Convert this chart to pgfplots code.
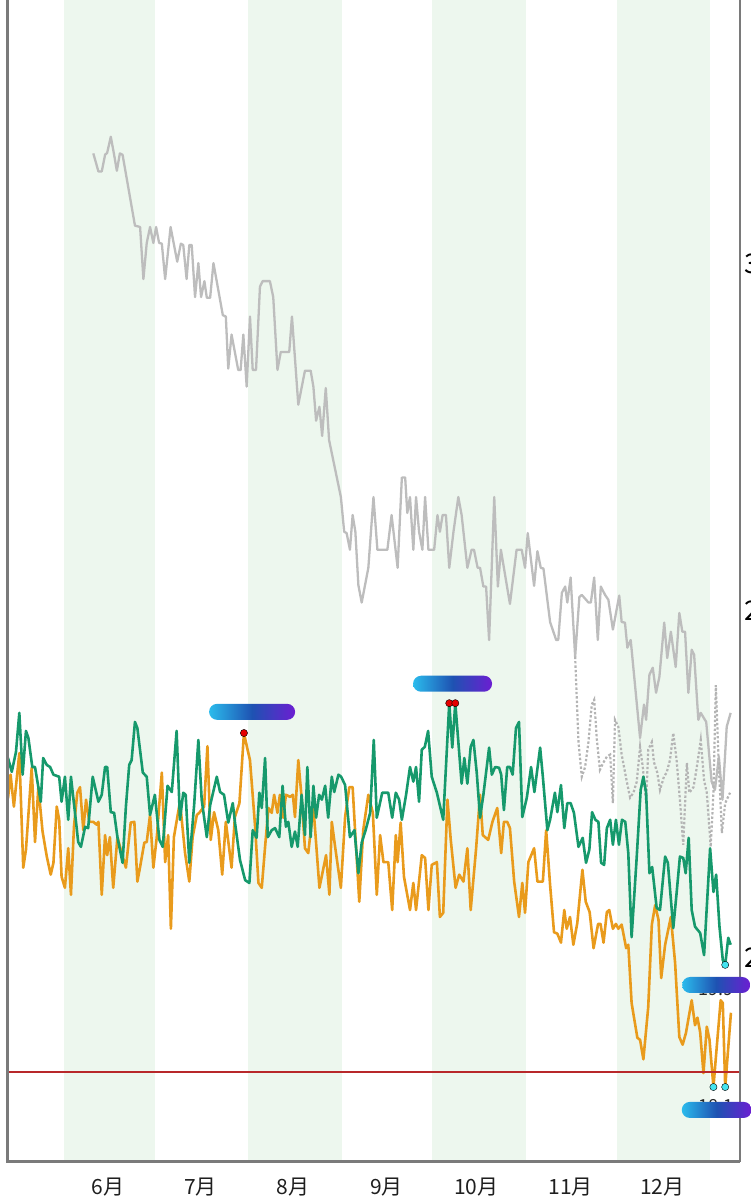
\documentclass[border=0pt]{standalone}
\usepackage{pgfplots}
\pgfplotsset{compat=1.18}
\usepackage{fontspec}
\setmainfont{Noto Sans CJK SC}
\definecolor{bandg}{HTML}{EDF7EE}
\definecolor{grn}{HTML}{16996C}
\definecolor{org}{HTML}{E99B1C}
\definecolor{gry}{HTML}{BDBDBD}
\definecolor{gryd}{HTML}{B4B4B4}
\definecolor{redl}{HTML}{B8282A}
\definecolor{pillc}{HTML}{2BBBEC}
\definecolor{pillb}{HTML}{1E52B2}
\definecolor{pillp}{HTML}{6C1ED2}
\definecolor{cyd}{HTML}{45E3F0}
\definecolor{frm}{HTML}{7A7A7A}
\tikzset{pill/.style={rounded corners=8pt, minimum height=16pt, inner sep=0pt,
  left color=pillc, right color=pillp, middle color=pillb}}
\begin{document}
\begin{tikzpicture}
\path[use as bounding box] (0,0) rectangle (751pt,1200pt);
\begin{axis}[at={(8pt,38pt)}, anchor=south west, scale only axis,
  width=732pt, height=1162pt,
  xmin=-18.55, xmax=223.9, ymin=17.06, ymax=33.80,
  clip=false, axis line style={draw=none},
  major tick length=0pt,
  xtick={14.6,45.2,75.8,106.8,136.6,167.8,198.2},
  xticklabels={6月,7月,8月,9月,10月,11月,12月},
  xticklabel style={font=\fontsize{21}{24}\selectfont, text=black!88, anchor=north, yshift=-12pt},
  ytick={20,25,30}, yticklabels={20,25,30}, yticklabel pos=right,
  yticklabel style={font=\fontsize{27}{30}\selectfont, text=black, anchor=west, xshift=1pt},
]
% month bands
\fill[bandg] (axis cs:0,17.06) rectangle (axis cs:30,33.8);
\fill[bandg] (axis cs:61,17.06) rectangle (axis cs:92,33.8);
\fill[bandg] (axis cs:122,17.06) rectangle (axis cs:153,33.8);
\fill[bandg] (axis cs:183,17.06) rectangle (axis cs:214,33.8);
% gray solid
\addplot[gry, line width=2.3pt, line join=round] coordinates {
(9.7,31.59)(11.4,31.33)(12.5,31.33)(13.6,31.57)(14.3,31.60)(15.5,31.83)(16.6,31.57)(17.5,31.34)(18.5,31.59)(19.4,31.57)
(23.5,30.55)(25.2,30.53)(26.3,29.78)(27.4,30.30)(28.5,30.53)(29.6,30.30)(30.5,30.53)(31.5,30.30)(32.4,30.29)(33.5,29.78)
(35.3,30.53)(37.5,30.03)(38.7,30.29)(39.5,30.27)(40.6,29.78)(41.5,30.27)(42.3,30.27)(43.4,29.52)(44.5,30.01)(45.4,29.52)
(46.5,29.75)(47.3,29.51)(48.4,29.51)(49.5,30.01)(52.6,29.26)(53.6,29.24)(54.4,28.49)(55.5,28.98)(57.7,28.47)(58.5,28.47)
(59.4,28.98)(60.5,28.23)(61.6,29.24)(62.5,28.47)(63.6,28.47)(64.9,29.67)(65.8,29.75)(68.2,29.75)(69.3,29.52)(70.7,28.47)
(71.8,28.73)(74.6,28.73)(75.5,29.24)(77.6,27.97)(79.8,28.46)(81.7,28.46)(82.6,28.23)(83.5,27.74)(84.6,27.94)(85.5,27.52)
(86.7,28.21)(87.8,27.46)(91.7,26.64)(92.8,26.14)(93.6,26.12)(94.7,25.88)(95.6,26.38)(96.5,26.14)(97.5,25.37)(98.6,25.12)
(100.8,25.62)(102.5,26.64)(103.8,25.88)(107.1,25.88)(108.5,26.38)(110.5,25.62)(111.9,26.92)(113.0,26.92)(113.7,26.41)(114.6,26.64)
(115.7,25.88)(116.6,26.64)(117.6,26.14)(118.7,25.88)(119.6,26.64)(120.7,25.88)(122.6,25.88)(123.7,26.38)(124.5,26.14)(125.4,26.38)
(126.5,26.38)(127.6,25.62)(129.0,26.14)(130.6,26.64)(131.7,26.38)(133.6,25.62)(135.0,25.88)(135.8,25.88)(137.0,25.62)(137.8,25.62)
(138.9,25.35)(139.8,25.35)(140.8,24.58)(142.5,26.64)(143.7,25.35)(144.7,25.88)(147.7,25.10)(149.9,25.88)(151.6,25.88)(152.7,25.62)
(153.6,26.12)(155.7,25.36)(156.8,25.86)(157.9,25.62)(158.8,25.61)(161.0,24.84)(163.0,24.58)(163.7,24.58)(164.9,25.26)(166.0,25.35)
(166.7,25.12)(167.8,25.48)(169.3,24.34)(170.7,25.20)(171.5,25.23)(173.7,25.12)(174.5,25.12)(175.6,25.48)(176.8,24.58)(177.8,25.35)
(179.2,25.23)(180.3,25.16)(181.8,24.73)(183.9,25.22)(184.7,24.84)(185.8,24.83)(186.6,24.47)(187.7,24.58)(190.8,23.17)(192.1,23.65)
(192.8,23.43)(193.9,24.08)(195.0,24.18)(196.1,23.82)(197.2,24.05)(198.8,24.83)(199.8,24.32)(201.0,24.70)(202.6,24.19)(203.8,24.97)
(204.8,24.70)(205.7,24.70)(206.8,23.82)(207.9,24.44)(208.7,24.37)(210.1,23.43)(210.9,23.53)(212.7,23.40)(214.5,22.54)(215.6,22.42)
(216.9,22.90)(218.1,22.28)(219.5,23.33)(220.8,23.53)};
% gray dotted
\addplot[gryd, line width=2.2pt, dash pattern=on 2.4pt off 2pt] coordinates {
(169.3,24.34)(170.4,23.11)(171.5,22.61)(172.6,22.75)(173.7,23.11)(174.8,23.65)(175.6,23.72)(176.5,23.14)(177.5,22.71)(178.6,22.81)
(179.8,22.90)(180.9,22.93)(181.8,22.23)(182.5,23.43)(183.6,23.33)(184.7,22.93)(186.4,22.54)(187.5,22.31)(188.6,22.38)(189.7,22.54)
(190.8,23.04)(191.7,22.75)(192.8,22.23)(193.5,23.00)(194.7,23.11)(195.4,22.82)(196.5,22.67)(197.4,22.42)(198.7,22.61)(199.6,22.67)
(200.7,22.85)(201.8,23.24)(202.9,22.85)(204.0,22.28)(205.1,21.63)(206.3,22.81)(207.1,22.38)(208.5,22.46)(209.6,22.75)(210.9,23.14)
(212.0,22.56)(212.9,22.38)(214.2,21.60)(215.1,22.38)(215.9,23.93)(216.8,22.85)(217.9,21.80)(219.0,22.23)(220.6,22.38)};
% orange
\addplot[org, line width=2.6pt, line join=round] coordinates {
(-18.55,22.30)(-17.7,22.64)(-16.6,22.18)(-14.8,22.95)(-13.5,21.30)(-12.6,21.56)(-10.7,22.74)(-9.6,21.67)(-8.5,22.46)(-7.1,21.82)
(-5.7,21.46)(-4.4,21.20)(-3.5,21.37)(-2.4,22.18)(-1.6,21.99)(-0.8,21.17)(0.3,21.01)(1.4,21.58)(2.3,20.91)(3.3,21.89)
(4.4,22.38)(5.3,22.46)(6.4,21.84)(7.3,22.28)(8.4,21.96)(9.7,21.96)(10.8,21.92)(11.4,21.96)(12.5,20.91)(13.6,21.77)
(14.3,21.48)(15.2,21.74)(16.3,21.01)(17.7,21.74)(19.1,21.51)(20.5,21.30)(22.1,21.95)(23.3,21.96)(24.3,21.10)(25.2,21.31)
(26.6,21.66)(27.4,21.67)(28.5,22.06)(29.6,21.30)(30.7,21.73)(32.4,22.67)(33.5,21.38)(34.5,21.77)(35.4,20.42)(36.4,21.74)
(38.4,22.25)(40.1,21.51)(41.5,21.10)(42.6,21.74)(44.0,22.06)(44.8,22.09)(46.4,22.18)(47.5,23.05)(48.6,21.70)(49.7,22.10)
(51.1,21.84)(52.4,21.20)(53.6,21.96)(55.5,21.30)(56.6,22.03)(58.1,22.23)(59.6,23.24)(60.8,23.00)(61.6,22.85)(63.3,21.89)
(64.4,21.08)(65.5,21.01)(66.6,21.60)(67.7,22.16)(68.8,22.09)(69.6,22.35)(70.7,22.09)(71.5,22.35)(72.6,22.02)(73.5,22.35)
(74.9,22.32)(75.8,22.35)(76.5,22.03)(77.6,22.85)(78.7,22.31)(79.8,21.58)(80.9,21.51)(82.6,22.18)(84.6,21.01)(86.8,21.48)
(87.9,20.91)(88.7,21.96)(89.8,21.60)(91.7,21.01)(93.1,22.03)(94.5,22.46)(95.6,22.46)(96.4,21.84)(97.8,20.81)(99.1,21.84)
(100.8,22.35)(102.3,22.09)(103.6,20.91)(104.7,21.77)(105.8,21.38)(107.4,21.38)(108.7,20.69)(109.9,21.77)(110.5,21.38)(111.5,21.95)
(112.6,21.17)(114.6,20.69)(115.7,21.08)(116.6,20.69)(118.5,21.48)(119.6,21.44)(120.7,20.69)(121.8,21.34)(123.5,21.38)(124.5,20.59)
(125.6,20.65)(127.0,22.28)(128.1,21.70)(129.7,21.01)(130.9,21.20)(132.3,21.10)(133.6,21.58)(134.7,20.69)(136.5,21.58)(137.8,22.35)
(138.7,21.77)(140.5,21.70)(141.9,21.96)(143.5,22.16)(144.8,21.51)(145.7,21.96)(146.8,21.96)(147.7,21.87)(149.1,21.10)(150.7,20.59)
(151.8,21.08)(152.7,20.65)(153.8,21.38)(155.7,21.58)(156.8,21.10)(158.6,21.10)(159.7,21.84)(161.0,21.05)(162.3,20.37)(163.4,20.35)
(164.6,20.22)(165.7,20.69)(166.5,20.42)(167.6,20.59)(168.7,20.19)(170.0,20.50)(171.7,21.27)(172.8,20.81)(174.1,20.66)(175.4,20.14)
(176.9,20.49)(177.7,20.49)(178.7,20.22)(179.8,20.66)(180.6,20.69)(181.8,20.42)(182.8,20.49)(183.6,20.42)(184.7,20.48)(186.2,20.14)
(186.9,20.19)(188.0,19.35)(189.9,18.85)(190.8,18.82)(191.9,18.54)(193.5,19.29)(194.7,20.48)(195.8,20.76)(196.9,20.55)(197.8,19.71)
(199.1,20.19)(201.0,20.59)(202.4,19.93)(203.8,18.86)(204.9,18.75)(206.0,18.92)(207.9,19.39)(209.0,19.03)(209.8,19.14)(210.7,18.93)
(211.8,18.34)(212.9,19.01)(213.8,18.82)(215.1,18.14)(216.2,18.72)(217.5,19.39)(218.2,19.35)(219.0,18.14)(220.9,19.21)};
% green
\addplot[grn, line width=2.6pt, line join=round] coordinates {
(-18.55,22.88)(-17.3,22.68)(-15.9,22.97)(-14.8,23.53)(-13.7,22.64)(-12.6,23.27)(-11.8,23.17)(-10.5,22.75)(-9.6,22.75)(-7.7,22.25)
(-6.9,22.88)(-5.7,22.78)(-4.6,22.75)(-3.5,22.64)(-1.6,22.61)(-0.8,22.25)(0.3,22.61)(1.4,21.99)(2.3,22.61)(4.0,21.95)
(4.7,21.67)(5.6,21.60)(7.0,21.89)(8.0,21.87)(9.5,22.61)(11.4,22.25)(12.5,22.35)(13.6,22.75)(14.3,22.75)(15.5,22.10)
(16.6,22.09)(17.7,21.74)(19.4,21.37)(20.5,22.18)(21.6,22.78)(22.4,22.85)(23.5,23.40)(24.3,23.31)(26.1,22.67)(27.4,22.61)
(28.5,22.06)(30.1,22.35)(31.6,21.70)(32.7,21.60)(34.3,22.48)(35.7,22.39)(37.3,23.27)(38.4,21.99)(39.5,22.38)(40.3,22.35)
(41.5,21.37)(43.1,22.20)(44.5,23.14)(45.6,22.28)(47.3,21.74)(48.4,22.20)(50.6,22.61)(51.7,22.39)(53.0,22.35)(54.4,21.95)
(55.9,22.23)(56.6,21.96)(58.3,21.41)(60.0,21.12)(61.4,21.08)(62.5,21.84)(63.8,21.73)(64.7,22.38)(65.5,22.16)(66.6,22.88)
(67.5,21.74)(68.8,21.84)(69.9,21.87)(71.3,21.74)(72.4,22.48)(73.5,21.89)(74.3,21.96)(75.4,21.60)(76.5,21.82)(77.4,21.60)
(78.7,22.35)(79.8,21.77)(80.6,22.75)(81.7,21.74)(82.6,22.48)(83.5,22.02)(84.5,22.35)(85.4,22.28)(86.5,22.48)(87.5,22.02)
(88.7,22.61)(89.5,22.39)(90.9,22.64)(91.8,22.61)(93.1,22.49)(94.7,21.74)(96.2,21.84)(97.5,21.22)(98.6,21.66)(99.9,21.84)
(101.4,22.09)(102.6,23.14)(103.6,22.02)(105.4,22.38)(107.4,22.38)(108.7,22.02)(109.9,22.38)(111.0,22.28)(111.9,21.99)(113.3,22.35)
(114.6,22.75)(115.7,22.54)(116.6,22.75)(117.6,22.25)(118.5,23.00)(119.5,23.04)(120.6,23.27)(121.8,22.61)(123.5,22.38)(125.6,21.99)
(127.6,23.67)(128.6,23.03)(129.6,23.67)(131.7,22.51)(132.6,22.88)(133.6,22.51)(134.7,23.04)(135.6,23.14)(136.7,22.67)(137.8,22.02)
(138.9,22.35)(140.8,23.03)(141.7,22.64)(142.8,22.75)(144.1,22.74)(144.8,22.64)(145.7,22.13)(146.8,22.75)(147.7,22.75)(148.6,22.64)
(149.7,23.31)(150.7,23.40)(151.8,22.03)(153.3,22.31)(154.7,22.75)(155.8,22.39)(157.7,23.03)(158.6,22.61)(160.1,21.84)(161.0,21.99)
(162.6,22.38)(163.4,22.10)(164.6,22.49)(165.7,21.87)(166.7,22.23)(167.8,22.23)(168.9,22.09)(170.4,21.60)(171.8,21.73)(172.9,21.37)
(174.0,21.56)(174.9,22.10)(176.0,21.99)(177.0,21.96)(177.9,21.37)(178.9,21.34)(179.8,21.87)(180.9,21.99)(181.8,21.63)(182.8,21.99)
(183.8,21.63)(184.8,21.99)(185.9,21.96)(186.9,21.51)(188.0,20.30)(189.7,21.46)(191.0,22.42)(191.9,22.61)(192.8,22.38)(193.9,21.22)
(194.8,21.31)(196.3,20.72)(197.4,20.69)(199.1,21.46)(200.0,21.37)(201.8,20.43)(203.0,20.98)(204.0,21.46)(205.1,21.44)(205.9,21.22)
(206.9,21.73)(207.9,20.69)(209.0,20.45)(210.7,20.36)(212.0,20.04)(214.0,21.58)(215.1,20.95)(216.0,21.20)(217.1,20.45)(218.2,19.97)
(219.0,19.90)(220.0,20.29)(220.8,20.19)};
% red reference line
\addplot[redl, line width=1.5pt] coordinates {(-18.55,18.36)(223.9,18.36)};
% max / min markers
\addplot[only marks, mark=*, mark size=3.6pt, mark options={draw=none, fill=red!90!black}] coordinates {(59.6,23.24)(127.6,23.67)(129.6,23.67)};
\addplot[only marks, mark=*, mark size=3.6pt, mark options={draw=none, fill=cyd}] coordinates {(219.0,19.90)(215.1,18.14)(219.0,18.14)};
% frame
\draw[frm, line width=3pt] (rel axis cs:0,1) -- (rel axis cs:0,0) -- (rel axis cs:1,0);
\draw[frm, line width=2pt] (rel axis cs:1,0) -- (rel axis cs:1,1);
% value labels and pills
\node[font=\fontsize{18}{20}\selectfont, text=black!85] at (axis cs:62.3,23.545) {23.2};
\node[pill, minimum width=86pt] at (axis cs:62.3,23.545) {};
\node[font=\fontsize{18}{20}\selectfont, text=black!85] at (axis cs:128.7,23.95) {23.7};
\node[pill, minimum width=79pt] at (axis cs:128.7,23.95) {};
\node[font=\fontsize{18}{20}\selectfont, text=black!85] at (axis cs:216.0,19.55) {19.9};
\node[pill, minimum width=68pt] at (axis cs:216.0,19.61) {};
\node[font=\fontsize{18}{20}\selectfont, text=black!85] at (axis cs:216.0,17.87) {18.1};
\node[pill, minimum width=70pt] at (axis cs:216.2,17.81) {};
\end{axis}
\end{tikzpicture}
\end{document}
